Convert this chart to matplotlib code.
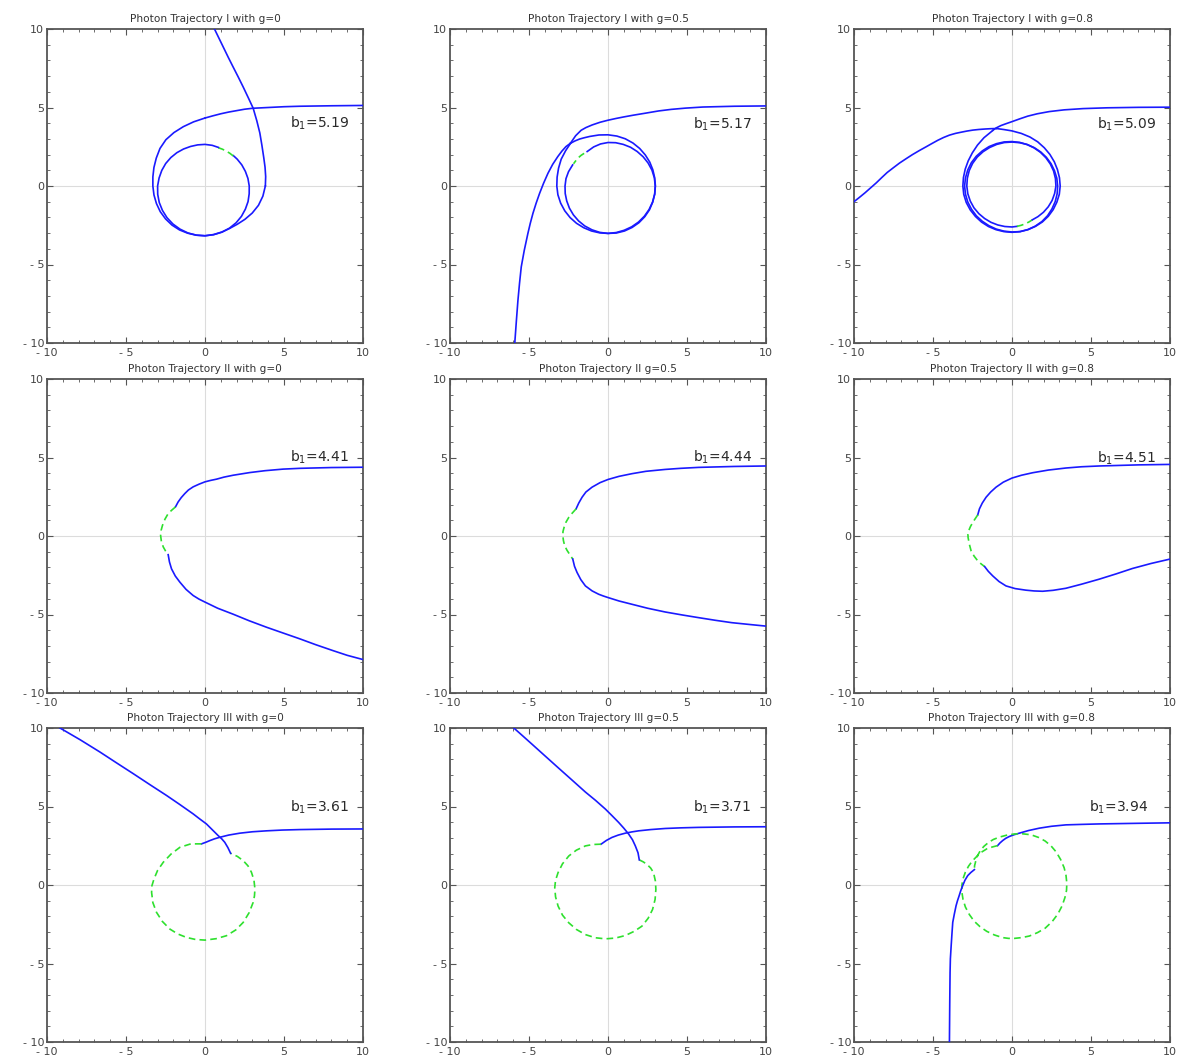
import numpy as np
import matplotlib
matplotlib.use('Agg')
import matplotlib.pyplot as plt

# ---- panel titles and impact parameters ----
titles = [
    'Photon Trajectory I with g=0', 'Photon Trajectory I with g=0.5', 'Photon Trajectory I with g=0.8',
    'Photon Trajectory II with g=0', 'Photon Trajectory II g=0.5', 'Photon Trajectory II with g=0.8',
    'Photon Trajectory III with g=0', 'Photon Trajectory III g=0.5', 'Photon Trajectory III with g=0.8',
]
b_values = ['5.19', '5.17', '5.09', '4.41', '4.44', '4.51', '3.61', '3.71', '3.94']
label_x = [5.4, 5.35, 5.4, 5.36, 5.35, 5.41, 5.36, 5.35, 4.88]
label_y = [4.0, 3.94, 3.9, 5.04, 4.99, 4.97, 4.96, 4.95, 4.96]

tick_values = [-10, -5, 0, 5, 10]
tick_labels = ['- 10', '- 5', '0', '5', '10']

# ---- trajectory I, g=0 (tails as x/y, windings as angle in degrees / radius) ----
p1_in_x = [10, 8, 6, 5, 4, 3, 2.5, 2, 1.5, 1, 0.5, 0]
p1_in_y = [5.13, 5.11, 5.08, 5.05, 5.0, 4.95, 4.89, 4.8, 4.71, 4.6, 4.47, 4.33]
p1_loop_a_phi = [90, 100, 110, 120, 130, 140, 150, 160, 170, 180, 190, 200, 210, 220, 230, 240,
                 250, 260, 270, 280, 290, 300, 310, 320, 330, 340, 350, 360, 370, 380, 390, 400, 407]
p1_loop_a_r = [4.33, 4.15, 4.02, 3.93, 3.85, 3.72, 3.56, 3.44, 3.35, 3.3, 3.28, 3.27, 3.27, 3.26, 3.25, 3.23,
               3.2, 3.18, 3.17, 3.15, 3.13, 3.1, 3.06, 3.01, 2.95, 2.9, 2.84, 2.8, 2.76, 2.72, 2.69, 2.66, 2.64]
p1_green_phi = [47, 53, 59, 65, 71]
p1_green_r = [2.62, 2.61, 2.6, 2.59, 2.58]
p1_loop_b_phi = [71, 80, 90, 100, 110, 120, 130, 140, 150, 160, 170, 180, 190, 200, 210, 220,
                 230, 240, 250, 260, 270, 280, 290, 300, 310, 320, 330, 340, 350, 360]
p1_loop_b_r = [2.6, 2.63, 2.65, 2.66, 2.68, 2.72, 2.77, 2.82, 2.87, 2.91, 2.95, 3.0, 3.04, 3.08, 3.11, 3.14,
               3.16, 3.17, 3.18, 3.18, 3.17, 3.14, 3.12, 3.12, 3.18, 3.3, 3.45, 3.6, 3.72, 3.82]
p1_out_x = [3.82, 3.84, 3.8, 3.72, 3.6, 3.47, 3.28, 3.05, 2.75, 2.42, 2.1, 1.76, 1.47, 1.18, 0.89, 0.6]
p1_out_y = [0, 0.6, 1.2, 1.8, 2.6, 3.38, 4.15, 4.95, 5.6, 6.3, 6.95, 7.62, 8.2, 8.8, 9.4, 10]

# ---- trajectory I, g=0.5 ----
p2_in_x = [10, 8, 6, 4.9, 4, 3.2, 2.38, 1.6, 1, 0.5, 0, -0.5, -1.0, -1.4, -1.7, -2.05, -2.38]
p2_in_y = [5.1, 5.08, 5.03, 4.96, 4.88, 4.78, 4.64, 4.51, 4.4, 4.3, 4.19, 4.06, 3.89, 3.72, 3.55, 3.2, 2.72]
p2_loop_a_phi = [131, 140, 150, 160, 170, 180, 190, 200, 210, 220, 230, 240, 250, 260, 270, 280, 290, 300,
                 310, 320, 330, 340, 350, 360, 370, 380, 390, 400, 410, 420, 430, 440, 450, 460, 470, 481]
p2_loop_a_r = [3.61, 3.5, 3.42, 3.33, 3.27, 3.24, 3.22, 3.19, 3.16, 3.13, 3.1, 3.07, 3.05, 3.03, 3.02, 3.01, 3.0, 3.0,
               3.0, 3.0, 3.0, 3.0, 3.0, 2.99, 2.98, 2.96, 2.93, 2.9, 2.87, 2.85, 2.82, 2.8, 2.77, 2.72, 2.65, 2.56]
p2_green_phi = [126, 131, 136, 141, 147]
p2_green_r = [2.57, 2.59, 2.6, 2.6, 2.6]
p2_loop_b_phi = [149, 160, 170, 180, 190, 200, 210, 220, 230, 240, 250, 260, 270, 280, 290, 300, 310, 320,
                 330, 340, 350, 360, 370, 380, 390, 400, 410, 420, 430, 440, 450, 460, 470, 476, 481, 486, 491]
p2_loop_b_r = [2.61, 2.66, 2.7, 2.72, 2.75, 2.78, 2.82, 2.86, 2.9, 2.94, 2.97, 3.0, 3.02, 3.04, 3.05, 3.05, 3.05, 3.04,
               3.03, 3.01, 3.0, 3.0, 3.0, 3.02, 3.05, 3.08, 3.12, 3.16, 3.2, 3.23, 3.26, 3.3, 3.36, 3.42, 3.49, 3.55, 3.61]
p2_out_x = [-2.38, -2.66, -2.92, -3.18, -3.5, -3.8, -4.08, -4.33, -4.55, -4.75, -4.92, -5.07, -5.3, -5.49,
            -5.6, -5.7, -5.8, -5.9]
p2_out_y = [2.72, 2.51, 2.22, 1.87, 1.38, 0.81, 0.17, -0.47, -1.1, -1.74, -2.38, -3.02, -4.1, -5.15,
            -6.2, -7.28, -8.6, -10]

# ---- trajectory I, g=0.8 ----
p3_in_x = [10, 8, 6, 4.5, 3.3, 2.36, 1.6, 1, 0.5, 0, -0.4, -0.7, -1.0, -1.22]
p3_in_y = [5.02, 5.01, 4.98, 4.93, 4.85, 4.74, 4.6, 4.45, 4.28, 4.1, 3.96, 3.85, 3.7, 3.54]
p3_loop_a_phi = [109, 120, 130, 140, 150, 160, 170, 180, 190, 200, 210, 220, 230, 240, 250, 260, 270, 280,
                 290, 300, 310, 320, 330, 340, 350, 360, 370, 380, 390, 400, 410, 420, 430, 440, 450, 460,
                 470, 480, 490, 500, 510, 520, 530, 540, 550, 560, 570, 580, 590, 600, 610, 620, 630, 637]
p3_loop_a_r = [3.74, 3.55, 3.4, 3.28, 3.2, 3.15, 3.12, 3.11, 3.1, 3.08, 3.05, 3.02, 3.0, 2.98, 2.96, 2.95, 2.95, 2.95,
               2.95, 2.95, 2.95, 2.94, 2.92, 2.91, 2.9, 2.89, 2.88, 2.86, 2.85, 2.84, 2.83, 2.82, 2.81, 2.8, 2.8, 2.81,
               2.82, 2.83, 2.85, 2.87, 2.88, 2.88, 2.87, 2.86, 2.84, 2.81, 2.78, 2.74, 2.7, 2.67, 2.64, 2.62, 2.61, 2.59]
p3_green_phi = [277, 283, 289, 295, 301]
p3_green_r = [2.59, 2.57, 2.55, 2.53, 2.51]
p3_loop_b_phi = [301, 310, 320, 330, 340, 350, 360, 370, 380, 390, 400, 410, 420, 430, 440, 450, 460, 470,
                 480, 490, 500, 510, 520, 530, 540, 550, 560, 570, 580, 590, 600, 610, 620, 630, 640, 650,
                 660, 670, 680, 690, 700, 710, 720, 730, 740, 750, 760, 770, 780, 790, 800, 810, 818, 825]
p3_loop_b_r = [2.51, 2.55, 2.6, 2.65, 2.7, 2.74, 2.78, 2.79, 2.8, 2.8, 2.8, 2.8, 2.8, 2.81, 2.82, 2.83, 2.85, 2.87,
               2.9, 2.92, 2.95, 2.97, 2.98, 2.99, 3.0, 2.99, 2.98, 2.96, 2.95, 2.93, 2.92, 2.92, 2.92, 2.93, 2.95, 2.96,
               2.97, 2.99, 3.0, 3.01, 3.02, 3.04, 3.05, 3.05, 3.06, 3.09, 3.13, 3.18, 3.25, 3.32, 3.4, 3.51, 3.63, 3.79]
p3_out_x = [-1.0, -1.35, -1.7, -2.1, -2.48, -2.85, -3.2, -3.58, -3.96, -4.33, -4.7, -5.06, -5.43, -5.86,
            -6.3, -6.7, -7.12, -7.5, -7.9, -8.25, -8.59, -8.95, -9.3, -9.65, -10]
p3_out_y = [3.66, 3.65, 3.63, 3.6, 3.56, 3.5, 3.43, 3.35, 3.24, 3.09, 2.91, 2.71, 2.5, 2.26,
            2.0, 1.74, 1.46, 1.17, 0.86, 0.53, 0.2, -0.12, -0.43, -0.72, -1.0]

# ---- trajectory II ----
p4_up_x = [10, 8, 6, 4.94, 3.8, 2.83, 1.78, 1.2, 0.73, 0.35, 0, -0.38, -0.75, -1.05, -1.28, -1.5, -1.7, -1.87]
p4_up_y = [4.38, 4.36, 4.31, 4.26, 4.16, 4.04, 3.87, 3.75, 3.62, 3.54, 3.45, 3.3, 3.13, 2.93, 2.7, 2.45, 2.17, 1.85]
p4_green_x = [-1.87, -2.1, -2.33, -2.53, -2.69, -2.78, -2.81, -2.76, -2.64, -2.5, -2.33]
p4_green_y = [1.85, 1.65, 1.43, 1.08, 0.68, 0.35, 0.04, -0.35, -0.7, -0.95, -1.19]
p4_low_x = [-2.33, -2.25, -2.12, -1.88, -1.59, -1.2, -0.75, -0.38, 0, 0.8, 1.78, 2.8, 3.89, 5.0, 6.0, 7.0, 8.1, 9.0, 10]
p4_low_y = [-1.19, -1.65, -2.09, -2.55, -2.94, -3.4, -3.79, -4.02, -4.21, -4.6, -4.98, -5.4, -5.81, -6.2,
            -6.55, -6.92, -7.3, -7.6, -7.87]

p5_up_x = [10, 8, 5.73, 4.6, 3.62, 2.4, 1.52, 0.7, 0, -0.5, -1.01, -1.4, -1.64, -1.85, -2.02]
p5_up_y = [4.46, 4.43, 4.37, 4.31, 4.24, 4.12, 3.97, 3.8, 3.6, 3.4, 3.11, 2.8, 2.47, 2.1, 1.73]
p5_green_x = [-2.02, -2.27, -2.48, -2.66, -2.78, -2.85, -2.86, -2.82, -2.74, -2.6, -2.44, -2.23]
p5_green_y = [1.73, 1.45, 1.19, 0.88, 0.55, 0.28, 0.02, -0.3, -0.62, -0.9, -1.15, -1.47]
p5_low_x = [-2.23, -2.12, -1.96, -1.72, -1.43, -1.0, -0.59, -0.3, 0, 0.7, 1.52, 2.5, 3.62, 4.7, 5.73, 6.8, 7.83, 9.0, 10]
p5_low_y = [-1.47, -1.93, -2.32, -2.78, -3.18, -3.5, -3.71, -3.82, -3.92, -4.14, -4.35, -4.6, -4.84, -5.03,
            -5.2, -5.37, -5.52, -5.64, -5.74]

p6_up_x = [10, 8, 5.52, 4.4, 3.41, 2.3, 1.31, 0.6, 0, -0.55, -1.01, -1.35, -1.64, -1.88, -2.06, -2.17]
p6_up_y = [4.56, 4.53, 4.46, 4.41, 4.33, 4.2, 4.03, 3.87, 3.69, 3.43, 3.11, 2.8, 2.47, 2.1, 1.73, 1.34]
p6_green_x = [-2.17, -2.33, -2.48, -2.63, -2.74, -2.79, -2.78, -2.7, -2.59, -2.4, -2.17, -1.95, -1.73]
p6_green_y = [1.34, 1.1, 0.87, 0.6, 0.34, 0.12, -0.09, -0.52, -0.94, -1.28, -1.58, -1.78, -1.95]
p6_low_x = [-1.73, -1.5, -1.22, -0.82, -0.38, 0.2, 0.88, 1.4, 1.94, 2.6, 3.41, 4.4, 5.52, 6.6, 7.62, 8.8, 10]
p6_low_y = [-1.95, -2.25, -2.54, -2.9, -3.18, -3.35, -3.45, -3.5, -3.52, -3.46, -3.33, -3.07, -2.75, -2.41,
            -2.07, -1.75, -1.47]

# ---- trajectory III ----
p7_in_x = [10, 8, 6, 4.9, 3.89, 3.0, 2.2, 1.5, 0.94, 0.6, 0.31, 0.05, -0.22]
p7_in_y = [3.57, 3.56, 3.53, 3.5, 3.45, 3.39, 3.3, 3.18, 3.04, 2.94, 2.83, 2.72, 2.62]
p7_green_x = [-0.22, -0.9, -1.59, -2.15, -2.64, -3.0, -3.23, -3.36, -3.38, -3.3, -3.07, -2.7, -2.22, -1.72,
              -1.17, -0.6, 0, 0.7, 1.36, 1.95, 2.42, 2.8, 3.05, 3.13, 3.16, 3.1, 2.94, 2.72, 2.42, 2.05, 1.62]
p7_green_y = [2.62, 2.62, 2.4, 1.97, 1.45, 0.93, 0.38, -0.05, -0.47, -1.12, -1.74, -2.32, -2.81, -3.12,
              -3.34, -3.47, -3.51, -3.42, -3.23, -2.86, -2.38, -1.75, -1.1, -0.7, -0.26, 0.3, 0.81, 1.22, 1.55, 1.82, 2.02]
p7_out_x = [1.62, 1.45, 1.25, 1.05, 0.83, 0.45, 0.09, -0.35, -0.75, -1.6, -2.43, -3.5, -4.54, -5.6, -6.65, -7.9, -9.18]
p7_out_y = [2.02, 2.38, 2.72, 2.95, 3.15, 3.53, 3.89, 4.22, 4.53, 5.13, 5.7, 6.4, 7.09, 7.78, 8.47, 9.25, 10]

p8_in_x = [10, 8, 5.73, 4.6, 3.62, 2.7, 1.94, 1.5, 1.09, 0.65, 0.25, -0.1, -0.44]
p8_in_y = [3.71, 3.7, 3.67, 3.64, 3.6, 3.53, 3.45, 3.38, 3.3, 3.18, 3.03, 2.84, 2.6]
p8_green_x = [-0.44, -0.95, -1.43, -2.0, -2.48, -2.88, -3.16, -3.32, -3.37, -3.32, -3.16, -2.88, -2.48, -2.0,
              -1.43, -0.8, -0.17, 0.47, 1.09, 1.66, 2.15, 2.54, 2.82, 2.98, 3.03, 3.0, 2.88, 2.7, 2.46, 2.22, 1.98]
p8_green_y = [2.6, 2.58, 2.49, 2.22, 1.85, 1.35, 0.79, 0.3, -0.17, -0.75, -1.34, -1.92, -2.41, -2.83,
              -3.16, -3.36, -3.43, -3.38, -3.22, -2.95, -2.62, -2.12, -1.56, -0.92, -0.28, 0.25, 0.79, 1.08, 1.32, 1.48, 1.6]
p8_out_x = [1.98, 1.9, 1.73, 1.55, 1.31, 1.0, 0.67, 0.25, -0.17, -0.8, -1.43, -2.25, -3.12, -3.95, -4.8, -5.4, -5.96]
p8_out_y = [1.6, 2.05, 2.49, 2.88, 3.24, 3.62, 3.99, 4.42, 4.84, 5.4, 5.92, 6.66, 7.44, 8.19, 8.96, 9.5, 10]

p9_in_x = [10, 8, 5.52, 4.4, 3.41, 2.5, 1.73, 1.05, 0.46, 0.12, -0.17, -0.4, -0.59, -0.76, -0.91]
p9_in_y = [3.96, 3.93, 3.89, 3.86, 3.83, 3.74, 3.62, 3.47, 3.3, 3.2, 3.09, 2.97, 2.83, 2.68, 2.51]
p9_green_x = [-0.91, -1.25, -1.6, -1.95, -2.25, -2.52, -2.75, -2.95, -3.1, -3.17, -3.18, -3.1, -2.95, -2.7,
              -2.4, -2.02, -1.6, -1.12, -0.6, -0.22, 0.15, 0.62, 1.1, 1.62, 2.1, 2.55, 2.9, 3.17, 3.35, 3.45,
              3.47, 3.42, 3.3, 3.08, 2.8, 2.48, 2.1, 1.68, 1.2, 0.68, 0.15, -0.35, -0.8, -1.18, -1.5, -1.78,
              -2.0, -2.18, -2.3, -2.37, -2.38]
p9_green_y = [2.51, 2.42, 2.3, 2.08, 1.8, 1.52, 1.2, 0.82, 0.4, 0.0, -0.4, -0.92, -1.4, -1.88,
              -2.3, -2.66, -2.95, -3.18, -3.35, -3.4, -3.4, -3.35, -3.25, -3.03, -2.75, -2.32, -1.85, -1.33, -0.8, -0.35,
              0.1, 0.6, 1.1, 1.62, 2.1, 2.48, 2.8, 3.03, 3.2, 3.26, 3.25, 3.17, 3.05, 2.9, 2.7, 2.46,
              2.2, 1.87, 1.5, 1.22, 0.98]
p9_out_x = [-2.38, -2.6, -2.8, -2.98, -3.12, -3.25, -3.35, -3.45, -3.54, -3.65, -3.75, -3.8, -3.85, -3.9, -3.92, -3.94, -3.96]
p9_out_y = [0.98, 0.8, 0.6, 0.3, -0.04, -0.38, -0.7, -1.0, -1.32, -1.85, -2.38, -3.1, -3.87, -4.7, -5.57, -7.5, -10]

BLUE = '#1a1aff'
GREEN = '#2ee02e'


def polar_to_xy(phi_deg, r):
    t = np.radians(phi_deg)
    return np.asarray(r) * np.cos(t), np.asarray(r) * np.sin(t)


def blue(ax, x, y):
    ax.plot(x, y, color=BLUE, lw=1.2, solid_joinstyle='round', zorder=3)


def green(ax, x, y):
    ax.plot(x, y, color=GREEN, lw=1.2, dashes=(4, 2.5), zorder=3)


def style_axes(ax, title):
    ax.set_xlim(-10, 10)
    ax.set_ylim(-10, 10)
    ax.axhline(0, color='#dcdcdc', lw=0.8, zorder=0)
    ax.axvline(0, color='#dcdcdc', lw=0.8, zorder=0)
    ax.set_xticks(tick_values)
    ax.set_yticks(tick_values)
    ax.set_xticklabels(tick_labels)
    ax.set_yticklabels(tick_labels)
    ax.set_xticks(range(-10, 11), minor=True)
    ax.set_yticks(range(-10, 11), minor=True)
    ax.tick_params(which='both', direction='in', top=True, right=True,
                   color='#555555', labelsize=8, labelcolor='#444444')
    ax.tick_params(axis='x', which='major', pad=3.5)
    ax.tick_params(axis='y', which='major', pad=2)
    ax.tick_params(which='major', length=4, width=0.8)
    ax.tick_params(which='minor', length=2, width=0.6)
    for s in ax.spines.values():
        s.set_color('#555555')
        s.set_linewidth(1.3)
    ax.set_title(title, fontsize=7.6, color='#333333', pad=5)


fig = plt.figure(figsize=(11.78, 10.57), dpi=100)
col_left = [47, 450, 854]
row_top = [29, 379, 728]
W, H = 316, 314
axes = []
for r_i in range(3):
    for c_i in range(3):
        l, t = col_left[c_i], row_top[r_i]
        axes.append(fig.add_axes([l / 1178, (1057 - t - H) / 1057, W / 1178, H / 1057]))

# trajectory I panels: incoming tail, winding, throat (green), winding, outgoing tail
for ax, ix, iy, aphi, ar, gphi, gr, bphi, br, ox, oy in [
        (axes[0], p1_in_x, p1_in_y, p1_loop_a_phi, p1_loop_a_r, p1_green_phi, p1_green_r,
         p1_loop_b_phi, p1_loop_b_r, p1_out_x, p1_out_y),
        (axes[1], p2_in_x, p2_in_y, p2_loop_a_phi, p2_loop_a_r, p2_green_phi, p2_green_r,
         p2_loop_b_phi, p2_loop_b_r, p2_out_x, p2_out_y),
        (axes[2], p3_in_x, p3_in_y, p3_loop_a_phi, p3_loop_a_r, p3_green_phi, p3_green_r,
         p3_loop_b_phi, p3_loop_b_r, p3_out_x, p3_out_y)]:
    blue(ax, ix, iy)
    blue(ax, *polar_to_xy(aphi, ar))
    green(ax, *polar_to_xy(gphi, gr))
    blue(ax, *polar_to_xy(bphi, br))
    blue(ax, ox, oy)

# trajectory II panels
for ax, ux, uy, gx, gy, lx, ly in [
        (axes[3], p4_up_x, p4_up_y, p4_green_x, p4_green_y, p4_low_x, p4_low_y),
        (axes[4], p5_up_x, p5_up_y, p5_green_x, p5_green_y, p5_low_x, p5_low_y),
        (axes[5], p6_up_x, p6_up_y, p6_green_x, p6_green_y, p6_low_x, p6_low_y)]:
    blue(ax, ux, uy)
    green(ax, gx, gy)
    blue(ax, lx, ly)

# trajectory III panels
for ax, ix, iy, gx, gy, ox, oy in [
        (axes[6], p7_in_x, p7_in_y, p7_green_x, p7_green_y, p7_out_x, p7_out_y),
        (axes[7], p8_in_x, p8_in_y, p8_green_x, p8_green_y, p8_out_x, p8_out_y),
        (axes[8], p9_in_x, p9_in_y, p9_green_x, p9_green_y, p9_out_x, p9_out_y)]:
    blue(ax, ix, iy)
    green(ax, gx, gy)
    blue(ax, ox, oy)

for i, ax in enumerate(axes):
    style_axes(ax, titles[i])
    ax.text(label_x[i], label_y[i], r'b$_1$=' + b_values[i], fontsize=10,
            color='#2a2a2a', ha='left', va='center', zorder=4)

fig.savefig('out.png', dpi=100)
